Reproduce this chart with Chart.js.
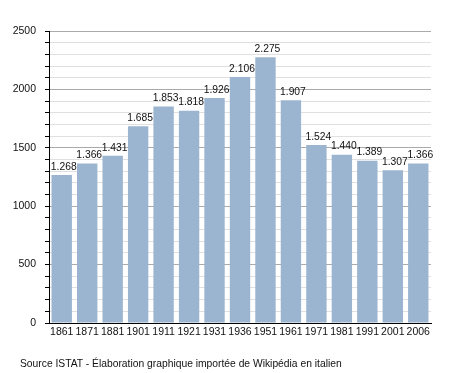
<!DOCTYPE html>
<html>
<head>
<meta charset="utf-8">
<script src="https://cdn.jsdelivr.net/npm/chart.js@4"></script>
<style>
  html, body { margin: 0; padding: 0; background: #fff; }
  #wrap { position: relative; width: 458px; height: 373px; }
  #source {
    position: absolute; left: 20px; top: 358px;
    font: 10.3px "Liberation Sans", Arial, sans-serif; color: #111;
    white-space: nowrap;
  }
</style>
</head>
<body>
<div id="wrap">
  <canvas id="chart" width="458" height="373"></canvas>
  <div id="source">Source ISTAT - Élaboration graphique importée de Wikipédia en italien</div>
</div>
<script>
// Données démographiques (recensements)
const annees = ['1861', '1871', '1881', '1901', '1911', '1921', '1931', '1936', '1951', '1961', '1971', '1981', '1991', '2001', '2006'];
const habitants = [1268, 1366, 1431, 1685, 1853, 1818, 1926, 2106, 2275, 1907, 1524, 1440, 1389, 1307, 1366];
const yMax = 2500;
const yPas = 100;
const yPasLabel = 500;

const police = '"Liberation Sans", Arial, sans-serif';

function formatMilliers(v) {
    return v.toLocaleString('de-DE');
}

// Étiquettes au-dessus des barres
const etiquettesPlugin = {
    id: 'etiquettes',
    afterDatasetsDraw(chart) {
        const ctx = chart.ctx;
        const meta = chart.getDatasetMeta(0);
        ctx.save();
        ctx.font = '10.3px ' + police;
        ctx.fillStyle = '#111';
        ctx.textAlign = 'center';
        ctx.textBaseline = 'bottom';
        meta.data.forEach((bar, i) => {
            ctx.fillText(formatMilliers(habitants[i]), bar.x + 2, bar.y - 3);
        });
        ctx.restore();
    }
};

const ctx = document.getElementById('chart').getContext('2d');
new Chart(ctx, {
    type: 'bar',
    data: {
        labels: annees,
        datasets: [{
            data: habitants,
            backgroundColor: '#9bb4d0',
            borderWidth: 0,
            barPercentage: 0.8,
            categoryPercentage: 1
        }]
    },
    options: {
        responsive: false,
        animation: false,
        events: [],
        layout: { padding: { top: 31, right: 27, left: 0, bottom: 0 } },
        plugins: { legend: { display: false }, tooltip: { enabled: false } },
        scales: {
            x: {
                afterFit: (s) => { s.height = 50; },
                grid: { display: false, drawTicks: false },
                border: { display: true, color: '#000', width: 1 },
                ticks: { color: '#111', font: { family: police, size: 10.5 }, padding: 3, maxRotation: 0, autoSkip: false }
            },
            y: {
                min: 0,
                max: yMax,
                afterFit: (s) => { s.width = 49; },
                ticks: {
                    stepSize: yPas,
                    autoSkip: false,
                    color: '#111',
                    padding: 9,
                    font: { family: police, size: 10.5 },
                    callback: (v) => (v % yPasLabel === 0 ? String(v) : '')
                },
                grid: {
                    color: (c) => (c.tick && c.tick.value % yPasLabel === 0 ? '#aaaaaa' : '#e0e0e0'),
                    tickColor: '#000',
                    tickLength: 4,
                    lineWidth: 1
                },
                border: { display: true, color: '#000', width: 1 }
            }
        }
    },
    plugins: [etiquettesPlugin]
});
</script>
</body>
</html>
